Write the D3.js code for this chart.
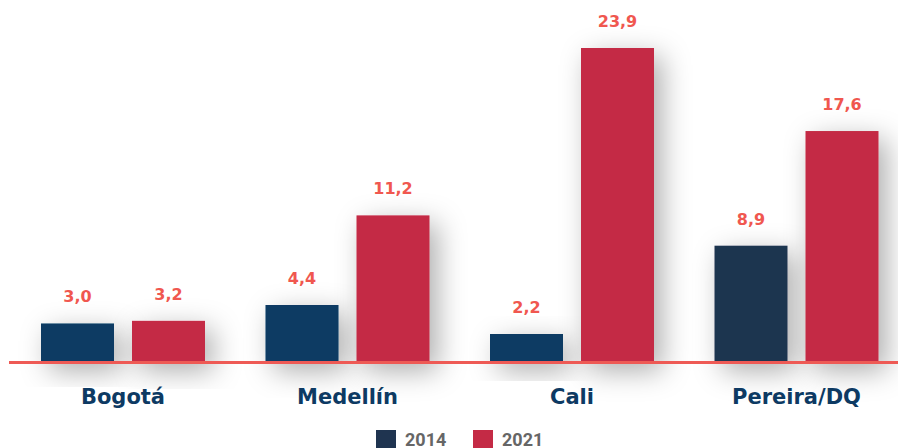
<!DOCTYPE html>
<html><head><meta charset="utf-8">
<script src="https://cdn.jsdelivr.net/npm/d3@7"></script>
<style>body{margin:0;background:#fff;overflow:hidden}</style>
</head><body>
<svg id="c" width="898" height="448"></svg>
<script>
const categories = ["Bogotá", "Medellín", "Cali", "Pereira/DQ"];
const series = ["2014", "2021"];
const values2014 = [3.0, 4.4, 2.2, 8.9];
const values2021 = [3.2, 11.2, 23.9, 17.6];
const valueLabels2014 = ["3,0", "4,4", "2,2", "8,9"];
const valueLabels2021 = ["3,2", "11,2", "23,9", "17,6"];

const svg = d3.select("#c");
const W = 898, H = 448;
const zeroY = 363;
const lineY = 361;
const x0 = d3.scaleBand().domain(categories).range([10.75, 908.75]).paddingInner(0).paddingOuter(0);
const yScale = d3.scaleLinear().domain([0, 23.9]).range([zeroY, 48]);

const defs = svg.append("defs");
const f = defs.append("filter").attr("id", "sh").attr("x", "-60%").attr("y", "-60%").attr("width", "220%").attr("height", "220%");
f.append("feDropShadow").attr("dx", 8).attr("dy", 8).attr("stdDeviation", 14).attr("flood-color", "#000").attr("flood-opacity", 0.32);

const colors2014 = ["#0c3a63", "#0c3a63", "#0c3a63", "#1f3450"];
const red = "#c42a45";
const barW = 73, gap = 18;

const data = categories.map((c, i) => ({c, i, v1: values2014[i], v2: values2021[i], l1: valueLabels2014[i], l2: valueLabels2021[i]}));

const g = svg.append("g");
data.forEach(d => {
  const cx = x0(d.c) + x0.bandwidth() / 2;
  const xa = cx - gap / 2 - barW, xb = cx + gap / 2;
  g.append("rect").attr("x", xa).attr("y", yScale(d.v1)).attr("width", barW).attr("height", zeroY - yScale(d.v1))
    .attr("fill", colors2014[d.i]).attr("filter", "url(#sh)");
  g.append("rect").attr("x", xb).attr("y", yScale(d.v2)).attr("width", barW).attr("height", zeroY - yScale(d.v2))
    .attr("fill", red).attr("filter", "url(#sh)");
});

// baseline
svg.append("rect").attr("x", 9).attr("y", lineY).attr("width", W - 9).attr("height", 3).attr("fill", "#ee5a55");

// value labels
data.forEach(d => {
  const cx = x0(d.c) + x0.bandwidth() / 2;
  const xa = cx - gap / 2 - barW / 2, xb = cx + gap / 2 + barW / 2;
  [[xa, d.v1, d.l1], [xb, d.v2, d.l2]].forEach(([x, v, l]) => {
    svg.append("text").attr("x", x).attr("y", yScale(v) - 21).attr("text-anchor", "middle")
      .attr("font-family", "DejaVu Sans, sans-serif").attr("font-weight", 700).attr("font-size", 16)
      .attr("fill", "#f0574f").text(l);
  });
});

// category labels
data.forEach(d => {
  const cx = x0(d.c) + x0.bandwidth() / 2;
  svg.append("text").attr("x", cx).attr("y", 404).attr("text-anchor", "middle")
    .attr("font-family", "DejaVu Sans, sans-serif").attr("font-weight", 700).attr("font-size", 21)
    .attr("fill", "#0d3a63").text(d.c);
});

// legend
const legend = [{s: series[0], c: "#1f3450", x: 376}, {s: series[1], c: red, x: 473}];
legend.forEach(l => {
  svg.append("rect").attr("x", l.x).attr("y", 430).attr("width", 20).attr("height", 18).attr("fill", l.c);
  svg.append("text").attr("x", l.x + 29).attr("y", 446).attr("font-family", "Roboto, sans-serif")
    .attr("font-weight", 700).attr("font-size", 18).attr("fill", "#666").text(l.s);
});
</script>
</body></html>
